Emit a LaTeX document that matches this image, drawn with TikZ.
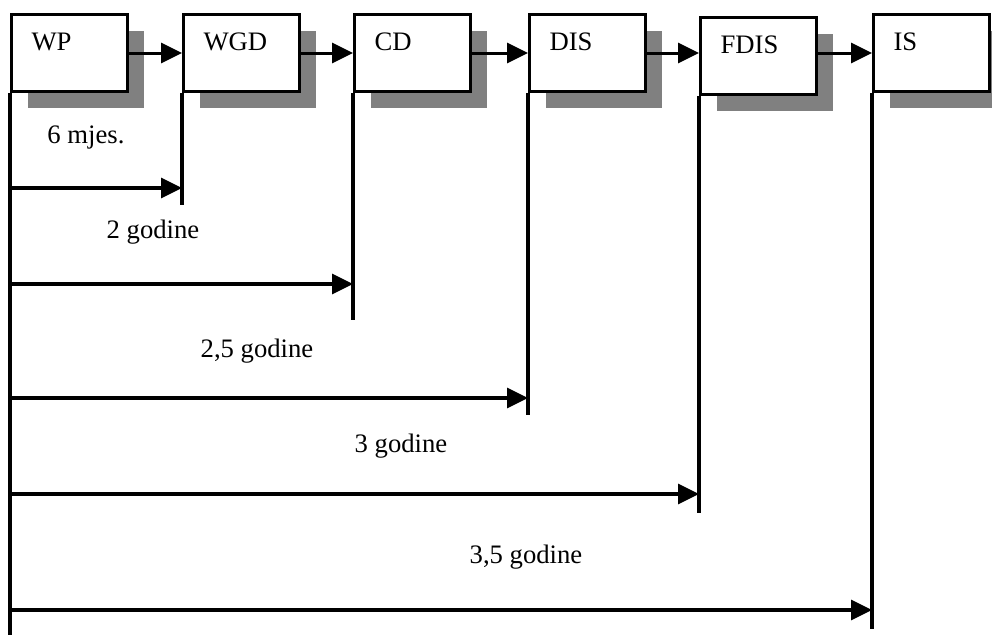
\documentclass[tikz,border=0pt]{standalone}
\usepackage{fontspec}
\setmainfont{Liberation Serif}
\usetikzlibrary{arrows.meta,shadows}

\definecolor{shade}{RGB}{128,128,128}

\tikzset{
  stage/.style={draw, line width=2.3pt, fill=white, anchor=north west,
    inner xsep=15pt, inner ysep=0pt, text width=57pt, align=left,
    text height=27pt, text depth=30.75pt,
    drop shadow={shadow xshift=12pt, shadow yshift=-12pt, opacity=1, fill=shade}},
  flow/.style={line width=2.3pt, -{Triangle[length=15.75pt,width=15pt]}},
  life/.style={line width=2.3pt},
  span/.style={anchor=base}
}

\begin{document}
\begin{tikzpicture}[x=0.75pt, y=-0.75pt, font=\fontsize{20pt}{24pt}\selectfont]
    \useasboundingbox (0,0) rectangle (992,640);

    % stages of the standard
    \node[stage] (wp)   at (10,13)  {WP};
    \node[stage] (wgd)  at (182,13) {WGD};
    \node[stage] (cd)   at (353,13) {CD};
    \node[stage] (dis)  at (528,13) {DIS};
    \node[stage] (fdis) at (699,16) {FDIS};
    \node[stage] (is)   at (872,13) {IS};

    \draw[flow] (wp) -- (wgd);
    \draw[flow] (wgd) -- (cd);
    \draw[flow] (cd) -- (dis);
    \draw[flow] (dis) -- (dis -| fdis.west);
    \draw[flow] (fdis.east |- is) -- (is);

    % time lines below the boxes
    \coordinate (wpend)   at (10,635);
    \coordinate (wgdend)  at (182,205);
    \coordinate (cdend)   at (353,320);
    \coordinate (disend)  at (528,415);
    \coordinate (fdisend) at (699,513);
    \coordinate (isend)   at (872,629);
    \draw[life] (wp.south west) -- (wpend);
    \draw[life] (wgd.south west) -- (wgdend);
    \draw[life] (cd.south west) -- (cdend);
    \draw[life] (dis.south west) -- (disend);
    \draw[life] (fdis.south west) -- (fdisend);
    \draw[life] (is.south west) -- (isend);

    % durations from WP
    \coordinate (t1) at (10,188);
    \coordinate (t2) at (10,284);
    \coordinate (t3) at (10,398);
    \coordinate (t4) at (10,494);
    \coordinate (t5) at (10,610);
    \draw[flow] (t1) -- (t1 -| wgdend);
    \draw[flow] (t2) -- (t2 -| cdend);
    \draw[flow] (t3) -- (t3 -| disend);
    \draw[flow] (t4) -- (t4 -| fdisend);
    \draw[flow] (t5) -- (t5 -| isend);

    \node[span] (d1) at (86,143) {6 mjes.};
    \node[span] (d2) at (153,238) {2 godine};
    \node[span] (d3) at (257,357) {2,5 godine};
    \node[span] (d4) at (401,452) {3 godine};
    \node[span] (d5) at (526,563) {3,5 godine};
\end{tikzpicture}
\end{document}
